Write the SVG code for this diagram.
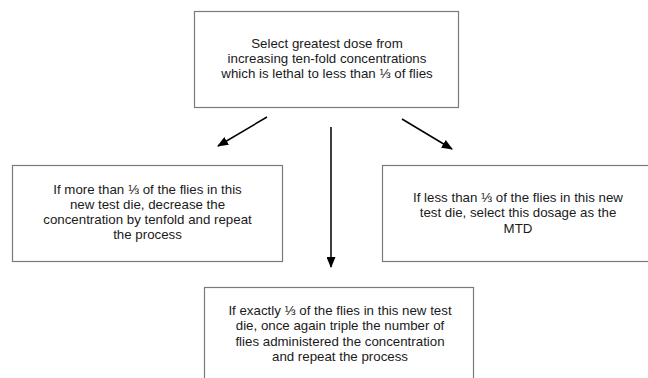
<svg xmlns="http://www.w3.org/2000/svg" width="648" height="378" viewBox="0 0 648 378">
<defs>
<style>
.box{fill:#fff;stroke:#7a7a7a;stroke-width:1.2}
.t{font-family:"Liberation Sans",Arial,sans-serif;font-size:13.3px;fill:#1a1a1a;text-anchor:middle}
.arr{stroke:#000;stroke-width:1.5;fill:none;marker-end:url(#ah)}
</style>
<marker id="ah" markerWidth="11" markerHeight="9" refX="10" refY="4.5" orient="auto" markerUnits="userSpaceOnUse">
<path d="M0,0 L11,4.5 L0,9 Z" fill="#000"/>
</marker>
</defs>
<rect width="648" height="378" fill="#fff"/>
<g id="top">
<rect class="box" x="194.5" y="11.5" width="264" height="96"/>
<text class="t" x="327" y="48">Select greatest dose from</text>
<text class="t" x="327" y="63">increasing ten-fold concentrations</text>
<text class="t" x="327" y="78">which is lethal to less than ⅓ of flies</text>
</g>
<g id="left">
<rect class="box" x="12.5" y="165.5" width="270" height="96"/>
<text class="t" x="147.5" y="193.5">If more than ⅓ of the flies in this</text>
<text class="t" x="147.5" y="208.5">new test die, decrease the</text>
<text class="t" x="147.5" y="223.5">concentration by tenfold and repeat</text>
<text class="t" x="147.5" y="238.5">the process</text>
</g>
<g id="right">
<rect class="box" x="382.5" y="165.5" width="272" height="96"/>
<text class="t" x="518" y="202">If less than ⅓ of the flies in this new</text>
<text class="t" x="518" y="217">test die, select this dosage as the</text>
<text class="t" x="518" y="233">MTD</text>
</g>
<g id="bottom">
<rect class="box" x="204.5" y="287.5" width="269" height="100"/>
<text class="t" x="340" y="315">If exactly ⅓ of the flies in this new test</text>
<text class="t" x="340" y="330">die, once again triple the number of</text>
<text class="t" x="340" y="346">flies administered the concentration</text>
<text class="t" x="340" y="361">and repeat the process</text>
</g>
<g id="connectors">
<line class="arr" x1="267" y1="117" x2="218" y2="146"/>
<line class="arr" x1="331" y1="127" x2="331" y2="267"/>
<line class="arr" x1="402" y1="119" x2="452" y2="149"/>
</g>
</svg>
